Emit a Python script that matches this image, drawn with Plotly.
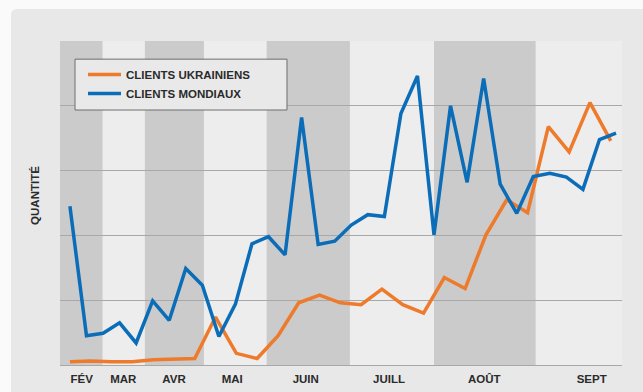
import numpy as np
import plotly.graph_objects as go

# ---------------- data ----------------
months = ["FÉV", "MAR", "AVR", "MAI", "JUIN", "JUILL", "AOÛT", "SEPT"]
# month band edges, in week units (x axis)
month_edges = [-0.6, 1.98, 4.53, 8.1, 11.89, 16.92, 22.0, 28.15, 33.36]
# month label positions (week units)
month_label_pos = [0.71, 3.22, 6.29, 9.81, 14.25, 19.28, 25.04, 31.53]

clients_mondiaux = [2.45, 0.45, 0.49, 0.65, 0.34, 0.99, 0.69, 1.49, 1.23, 0.44,
                    0.94, 1.87, 1.98, 1.70, 3.82, 1.86, 1.91, 2.16, 2.32, 2.29,
                    3.88, 4.46, 2.01, 4.00, 2.82, 4.42, 2.79, 2.34, 2.91, 2.96,
                    2.90, 2.71, 3.48, 3.58]
clients_ukrainiens = [0.05, 0.06, 0.05, 0.05, 0.08, 0.09, 0.10, 0.74, 0.18, 0.10,
                      0.45, 0.96, 1.08, 0.96, 0.93, 1.17, 0.93, 0.80, 1.35, 1.18,
                      2.01, 2.55, 2.35, 3.68, 3.29, 4.05, 3.46]

x_mondiaux = np.arange(len(clients_mondiaux))
x_ukrainiens = np.linspace(0, 32.68, len(clients_ukrainiens))

ORANGE = "#EE7A2B"
BLUE = "#0B6DB8"
FONT = "Liberation Sans"
TXT = "#2b2b2b"

fig = go.Figure()
fig.add_trace(go.Scatter(x=x_ukrainiens, y=clients_ukrainiens, mode="lines",
                         name="CLIENTS UKRAINIENS",
                         line=dict(color=ORANGE, width=3.5)))
fig.add_trace(go.Scatter(x=x_mondiaux, y=clients_mondiaux, mode="lines",
                         name="CLIENTS MONDIAUX",
                         line=dict(color=BLUE, width=3.5)))

shapes = []
# card background (paper coords), rounded top-left corner
L, T, R, B = -0.0872, 1.0988, 1.1, -0.2
rx, ry = 6 / 562, 6 / 324
shapes.append(dict(type="path", xref="paper", yref="paper", layer="below",
                   path=f"M {L},{B} L {L},{T-ry} Q {L},{T} {L+rx},{T} L {R},{T} L {R},{B} Z",
                   fillcolor="#e8e8e8", line=dict(width=0)))
# alternating month bands
for i in range(len(months)):
    shapes.append(dict(type="rect", xref="x", yref="paper", layer="below",
                       x0=month_edges[i], x1=month_edges[i + 1], y0=0, y1=1,
                       fillcolor="#cbcbcb" if i % 2 == 0 else "#ededed",
                       line=dict(width=0)))
# legend frame
shapes.append(dict(type="rect", xref="paper", yref="paper", layer="above",
                   x0=0.0267, x1=0.4039, y0=0.787, y1=0.944,
                   fillcolor="#e9e9e9", line=dict(color="#6e6e6e", width=1)))

fig.update_layout(
    width=643, height=392,
    margin=dict(l=60, r=21, t=41, b=27),
    paper_bgcolor="#fafafa",
    plot_bgcolor="#ededed",
    shapes=shapes,
    showlegend=True,
    legend=dict(x=0.0409, y=0.941, xanchor="left", yanchor="top",
                bgcolor="rgba(0,0,0,0)", borderwidth=0,
                font=dict(family=FONT, size=11.5, color=TXT, weight="bold"),
                itemwidth=33, tracegroupgap=0),
    xaxis=dict(range=[month_edges[0], month_edges[-1]], showgrid=False,
               zeroline=False, showline=True, linecolor="#a8a8a8", linewidth=1,
               tickmode="array", tickvals=month_label_pos, ticktext=months,
               ticks="", ticklabelstandoff=3, automargin=False,
               tickfont=dict(family=FONT, size=11.5, color=TXT, weight="bold")),
    yaxis=dict(range=[0, 5], dtick=1, showgrid=True, gridcolor="#a8a8a8",
               gridwidth=1, zeroline=False, showticklabels=False, ticks=""),
    annotations=[dict(text="QUANTITÉ", xref="paper", yref="paper",
                      x=-0.0445, y=0.525, textangle=-90, showarrow=False,
                      xanchor="center", yanchor="middle",
                      font=dict(family=FONT, size=11.5, color=TXT, weight="bold"))],
)

fig.write_html("out.html")
